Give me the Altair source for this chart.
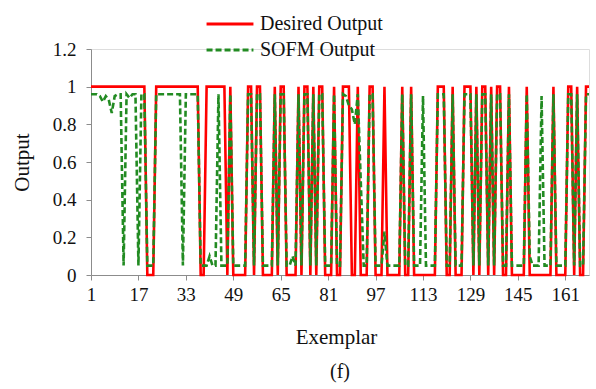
import altair as alt
import pandas as pd

# Exemplar index (x axis)
exemplar = list(range(1, 170))

# Target class for each exemplar (0/1)
desired_output = [
    1, 1, 1, 1, 1, 1, 1, 1, 1, 1,
    1, 1, 1, 1, 1, 1, 1, 1, 1, 0,
    0, 0, 1, 1, 1, 1, 1, 1, 1, 1,
    1, 1, 1, 1, 1, 1, 1, 0, 0, 1,
    1, 1, 1, 1, 1, 1, 0, 1, 0, 0,
    0, 0, 0, 1, 1, 0, 1, 1, 0, 0,
    0, 0, 1, 0, 1, 1, 0, 0, 0, 0,
    1, 0, 1, 1, 0, 1, 0, 1, 1, 0,
    0, 0, 1, 0, 0, 1, 1, 1, 0, 0,
    1, 0, 0, 0, 1, 1, 0, 0, 0, 1,
    0, 0, 0, 0, 0, 1, 0, 0, 1, 0,
    0, 0, 0, 0, 0, 0, 0, 1, 1, 1,
    0, 0, 1, 0, 0, 0, 1, 1, 1, 0,
    1, 0, 1, 1, 0, 1, 0, 1, 1, 0,
    0, 1, 0, 0, 0, 0, 0, 1, 0, 0,
    0, 0, 0, 0, 0, 0, 1, 0, 0, 0,
    0, 1, 1, 0, 1, 0, 0, 1, 1,
]

# Network response for each exemplar
sofm_output = [
    0.96, 0.96, 0.96, 0.95, 0.92, 0.95, 0.93, 0.86, 0.95, 0.96,
    0.96, 0.05, 0.96, 0.94, 0.96, 0.96, 0.05, 0.96, 0.96, 0.05,
    0.05, 0.05, 0.96, 0.96, 0.96, 0.96, 0.96, 0.96, 0.96, 0.96,
    0.96, 0.05, 0.96, 0.96, 0.96, 0.96, 0.96, 0.05, 0.05, 0.05,
    0.10, 0.05, 0.05, 0.96, 0.05, 0.05, 0.05, 0.96, 0.05, 0.05,
    0.05, 0.05, 0.05, 0.96, 0.96, 0.05, 0.96, 0.96, 0.05, 0.05,
    0.05, 0.05, 0.96, 0.05, 0.96, 0.96, 0.05, 0.05, 0.10, 0.05,
    0.96, 0.05, 0.96, 0.96, 0.05, 0.96, 0.05, 0.96, 0.96, 0.05,
    0.05, 0.05, 0.96, 0.05, 0.05, 0.96, 0.95, 0.90, 0.88, 0.80,
    0.96, 0.50, 0.05, 0.05, 0.96, 0.96, 0.05, 0.05, 0.05, 0.23,
    0.05, 0.05, 0.05, 0.05, 0.05, 0.96, 0.05, 0.05, 0.96, 0.05,
    0.05, 0.05, 0.95, 0.05, 0.05, 0.05, 0.05, 0.96, 0.96, 0.96,
    0.05, 0.05, 0.96, 0.05, 0.05, 0.05, 0.96, 0.96, 0.96, 0.05,
    0.96, 0.05, 0.96, 0.96, 0.05, 0.96, 0.05, 0.96, 0.96, 0.05,
    0.05, 0.96, 0.05, 0.05, 0.05, 0.05, 0.05, 0.96, 0.10, 0.05,
    0.05, 0.05, 0.95, 0.05, 0.05, 0.05, 0.96, 0.05, 0.05, 0.05,
    0.05, 0.96, 0.96, 0.05, 0.96, 0.05, 0.05, 0.96, 0.96,
]

series_names = ["Desired Output", "SOFM Output"]
series_colors = ["#ff0000", "#228b22"]
x_ticks = [1, 17, 33, 49, 65, 81, 97, 113, 129, 145, 161]
y_ticks = [0, 0.2, 0.4, 0.6, 0.8, 1.0, 1.2]

df = pd.concat([
    pd.DataFrame({"Exemplar": exemplar, "Output": desired_output,
                  "Series": series_names[0], "order": 0}),
    pd.DataFrame({"Exemplar": exemplar, "Output": sofm_output,
                  "Series": series_names[1], "order": 1}),
])

FONT = "Liberation Serif"
AXIS_GREY = "#8c8c8c"

legend = alt.Legend(
    title=None, orient="none", legendX=114, legendY=-36,
    symbolType="stroke", symbolSize=2200, symbolStrokeWidth=3,
    labelFont=FONT, labelFontSize=20, labelColor="#111111",
    labelOffset=5, rowPadding=4, clipHeight=22, labelLimit=300,
)

chart = alt.Chart(df).mark_line(strokeWidth=2.6, interpolate="linear").encode(
    x=alt.X("Exemplar:Q",
            scale=alt.Scale(domain=[1, 169], nice=False, zero=False),
            axis=alt.Axis(values=x_ticks, title="Exemplar", grid=False,
                          domainColor=AXIS_GREY, tickColor=AXIS_GREY,
                          tickSize=5, labelPadding=5,
                          labelFont=FONT, labelFontSize=19, labelColor="#111111",
                          labelFlush=False,
                          titleFont=FONT, titleFontSize=21, titleFontWeight="normal",
                          titleColor="#111111", titleX=245, titleY=62,
                          titleBaseline="middle")),
    y=alt.Y("Output:Q",
            scale=alt.Scale(domain=[0, 1.2], nice=False),
            axis=alt.Axis(values=y_ticks, format=".1~f", title="Output", grid=False,
                          domainColor=AXIS_GREY, tickColor=AXIS_GREY,
                          tickSize=5, labelPadding=10,
                          labelFont=FONT, labelFontSize=19, labelColor="#111111",
                          titleFont=FONT, titleFontSize=21, titleFontWeight="normal",
                          titleColor="#111111", titleX=-69, titleY=113,
                          titleBaseline="middle", titleAngle=270)),
    color=alt.Color("Series:N",
                    scale=alt.Scale(domain=series_names, range=series_colors),
                    legend=legend),
    strokeDash=alt.StrokeDash("Series:N",
                              scale=alt.Scale(domain=series_names, range=[[1, 0], [6, 3]]),
                              legend=legend),
    order=alt.Order("order:Q"),
).properties(
    width=498,
    height=226,
    title=alt.TitleParams("(f)", orient="bottom", anchor="middle", offset=15,
                          font=FONT, fontSize=20, fontWeight="normal", color="#111111"),
    autosize=alt.AutoSizeParams(type="none"),
    padding={"left": 91, "top": 49, "right": 7, "bottom": 114},
).configure_view(stroke=None).configure(background="white")

chart.save("out.html", embed_options={"renderer": "svg", "actions": False})
